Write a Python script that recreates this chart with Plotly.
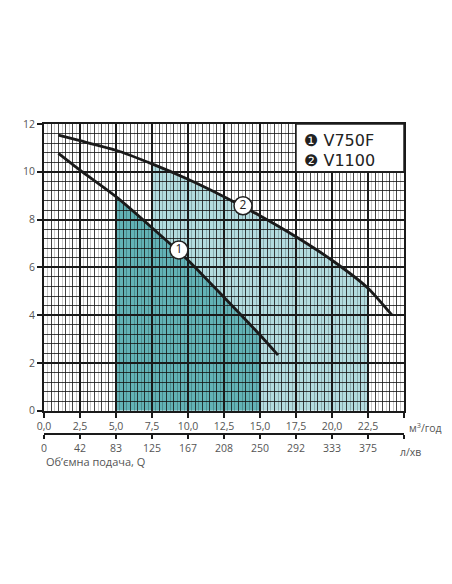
import plotly.graph_objects as go

# ---------------- data ----------------
q1 = [1.0, 2.5, 5.0, 7.5, 10.0, 12.5, 15.0, 16.25]
h1 = [10.77, 10.07, 8.96, 7.66, 6.30, 4.75, 3.17, 2.33]
q2 = [1.0, 2.5, 5.0, 7.5, 10.0, 12.5, 15.0, 17.5, 20.0, 22.5, 24.17]
h2 = [11.53, 11.30, 10.90, 10.33, 9.69, 8.96, 8.16, 7.28, 6.30, 5.13, 4.00]
zone1 = [5.0, 15.0]
zone2 = [7.5, 22.5]
series_names = ["V750F", "V1100"]
series_marks = ["\u2776", "\u2777"]
label_q = [9.37, 13.82]
label_h = [6.73, 8.58]
label_text = ["1", "2"]
x_ticks = [0, 2.5, 5, 7.5, 10, 12.5, 15, 17.5, 20, 22.5, 25]
x_labels = ["0,0", "2,5", "5,0", "7,5", "10,0", "12,5", "15,0", "17,5", "20,0", "22,5", ""]
lpm_labels = ["0", "42", "83", "125", "167", "208", "250", "292", "333", "375", ""]
y_ticks = [0, 2, 4, 6, 8, 10, 12]
y_labels = ["0", "2", "4", "6", "8", "10", "12"]

DARK = "#62b2b6"
LIGHT = "#b3dcdf"
TXT = "#555555"
FONT = "Open Sans"
MINOR = "rgba(20,20,20,0.8)"
FAINT = "rgba(0,0,0,0.22)"


def area_path(q, h, lo, hi):
    pts = [(x, y) for x, y in zip(q, h) if lo <= x <= hi]
    s = f"M {lo},0 " + " ".join(f"L {x},{y}" for x, y in pts) + f" L {hi},0 Z"
    return s


fig = go.Figure()

fig.add_trace(go.Scatter(x=q2, y=h2, mode="lines", line=dict(color="#1a1a1a", width=2.8, shape="spline", smoothing=0.6),
                         name=series_names[1], hoverinfo="skip"))
fig.add_trace(go.Scatter(x=q1, y=h1, mode="lines", line=dict(color="#1a1a1a", width=2.8, shape="spline", smoothing=0.6),
                         name=series_names[0], hoverinfo="skip"))
fig.add_trace(go.Scatter(x=label_q, y=label_h, xaxis="x2", mode="markers+text", text=label_text,
                         textposition="middle center",
                         textfont=dict(family=FONT, size=12, color="#222"),
                         marker=dict(size=18, color="white", line=dict(color="#222", width=1.5)),
                         hoverinfo="skip"))

shapes = [
    dict(type="path", xref="x", yref="y", path=area_path(q2, h2, *zone2), fillcolor=LIGHT, line=dict(width=0), layer="below"),
    dict(type="path", xref="x", yref="y", path=area_path(q1, h1, *zone1), fillcolor=DARK, line=dict(width=0), layer="below"),
    dict(type="rect", xref="x", yref="y", x0=17.5, x1=25, y0=10, y1=12, fillcolor="white",
         line=dict(color="#222", width=1.5), layer="above"),
]

annotations = []
for i, (m, n) in enumerate(zip(series_marks, series_names)):
    annotations.append(dict(xref="x", yref="y", x=17.95, y=11.33 - 0.84 * i, xanchor="left", yanchor="middle",
                            text=f"{m} {n}", showarrow=False,
                            font=dict(family="DejaVu Sans", size=16, color="#222")))
annotations += [
    dict(xref="x", yref="paper", x=25, y=0.022, xanchor="left", yanchor="middle", xshift=3,
         text="м<sup>3</sup>/год", showarrow=False, font=dict(family=FONT, size=10.5, color=TXT)),
    dict(xref="x", yref="paper", x=24.6, y=-0.058, xanchor="left", yanchor="middle",
         text="л/хв", showarrow=False, font=dict(family=FONT, size=10.5, color=TXT)),
    dict(xref="x", yref="paper", x=0.0, y=-0.09, xanchor="left", yanchor="middle",
         text="Об’ємна подача, Q", showarrow=False, font=dict(family=FONT, size=11, color=TXT)),
]

gray_ticks = [round(0.25 + 0.5 * k, 2) for k in range(50)]

fig.update_layout(
    width=452, height=584,
    margin=dict(l=36, r=56, t=116, b=158, autoexpand=False),
    paper_bgcolor="white", plot_bgcolor="white",
    showlegend=False,
    shapes=shapes, annotations=annotations,
    xaxis=dict(range=[0, 25], tickvals=x_ticks, ticktext=x_labels, showgrid=True, gridcolor="#1a1a1a", gridwidth=2,
               showline=True, linecolor="#1a1a1a", linewidth=2, mirror=True, ticks="outside", ticklen=5,
               tickwidth=2, tickcolor="#1a1a1a", zeroline=False, automargin=False,
               tickfont=dict(family=FONT, size=10.5, color=TXT),
               minor=dict(dtick=0.5, tick0=0, showgrid=True, gridcolor=MINOR, gridwidth=0.6, ticks=""),
               anchor="y"),
    xaxis2=dict(range=[0, 25], overlaying="x", anchor="free", position=0, side="bottom",
                tickvals=x_ticks, ticktext=lpm_labels, showgrid=False, showline=True, linecolor="#1a1a1a",
                linewidth=2, ticks="outside", ticklen=4, tickwidth=2, tickcolor="#1a1a1a", zeroline=False,
                automargin=False,
                tickfont=dict(family=FONT, size=10.5, color=TXT),
                minor=dict(tickmode="array", tickvals=gray_ticks, showgrid=True, gridcolor=FAINT,
                           gridwidth=1.1, ticks="")),
    yaxis=dict(range=[0, 12], domain=[0.0748, 1], tickvals=y_ticks, ticktext=y_labels, showgrid=True,
               gridcolor="#1a1a1a", gridwidth=2, showline=True, linecolor="#1a1a1a", linewidth=2, mirror=True,
               ticks="outside", ticklen=5, tickwidth=2, tickcolor="#1a1a1a", zeroline=False, automargin=False,
               tickfont=dict(family=FONT, size=10.5, color=TXT),
               minor=dict(dtick=0.4, tick0=0, showgrid=True, gridcolor=MINOR, gridwidth=0.6, ticks="")),
)

fig.write_html("out.html")
